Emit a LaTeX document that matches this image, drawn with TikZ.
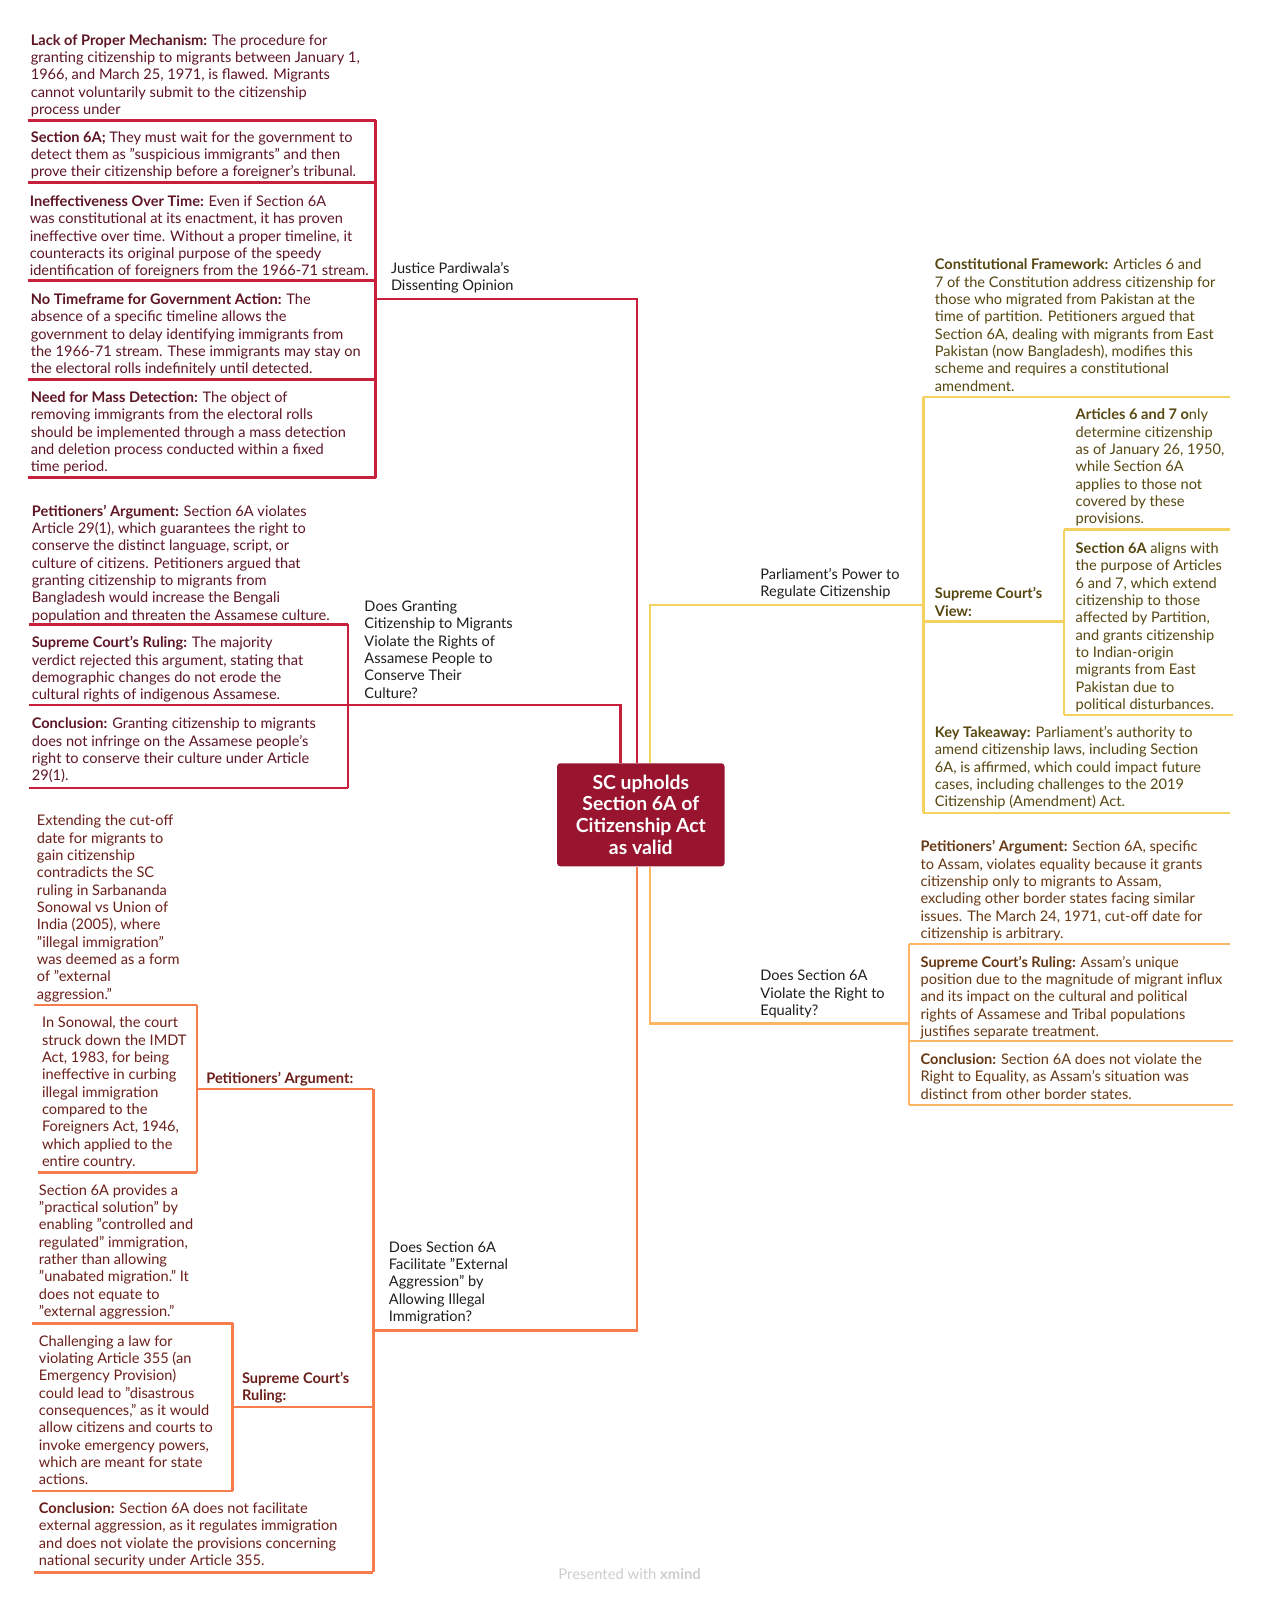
\documentclass[tikz,border=0pt]{standalone}
\usepackage{fontspec}
\setmainfont{Lato}
\definecolor{redL}{HTML}{C8203C}
\definecolor{redT}{HTML}{5E1624}
\definecolor{boxF}{HTML}{98142F}
\definecolor{yelL}{HTML}{F3D35E}
\definecolor{yelT}{HTML}{574710}
\definecolor{orgL}{HTML}{FDB563}
\definecolor{orgT}{HTML}{673814}
\definecolor{corL}{HTML}{F77D4C}
\definecolor{corT}{HTML}{6B1F1A}
\definecolor{labT}{HTML}{1E1E1E}
\definecolor{footT}{HTML}{CDCDCD}
\tikzset{
  txt/.style={anchor=north west, inner sep=0pt, align=left, yshift=-4pt,
    font=\fontsize{14.3}{17}\selectfont, execute at begin node=\strut},
  lab/.style={txt, text=labT},
  rl/.style={draw=redL, line width=2.3pt},
  yl/.style={draw=yelL, line width=2.3pt},
  ol/.style={draw=orgL, line width=2.3pt},
  cl/.style={draw=corL, line width=2.3pt},
}
\begin{document}
\begin{tikzpicture}[x=1pt,y=-1pt]
\useasboundingbox[fill=white] (0,0) rectangle (1236,1568);

% ---------- central topic
\node[fill=boxF, rounded corners=3pt, minimum width=164pt, minimum height=101pt,
  text=white, align=center, font=\fontsize{19}{21.5}\selectfont\bfseries, inner sep=0pt]
  (root) at (628,798.5) {SC upholds\\Section 6A of\\Citizenship Act\\as valid};

% ---------- red branch 1
\node[txt, text=redT] (n1) at (30,29.5) {\textbf{Lack of Proper Mechanism:} The procedure for\\granting citizenship to migrants between January 1,\\1966, and March 25, 1971, is flawed. Migrants\\cannot voluntarily submit to the citizenship\\process under};
\node[txt, text=redT] (n2) at (30,124.5) {\textbf{Section 6A;} They must wait for the government to\\detect them as "suspicious immigrants" and then\\prove their citizenship before a foreigner's tribunal.};
\node[txt, text=redT] (n3) at (29,187.5) {\textbf{Ineffectiveness Over Time:} Even if Section 6A\\was constitutional at its enactment, it has proven\\ineffective over time. Without a proper timeline, it\\counteracts its original purpose of the speedy\\identification of foreigners from the 1966-71 stream.};
\node[txt, text=redT] (n4) at (30,283.5) {\textbf{No Timeframe for Government Action:} The\\absence of a specific timeline allows the\\government to delay identifying immigrants from\\the 1966-71 stream. These immigrants may stay on\\the electoral rolls indefinitely until detected.};
\node[txt, text=redT] (n5) at (30,379.5) {\textbf{Need for Mass Detection:} The object of\\removing immigrants from the electoral rolls\\should be implemented through a mass detection\\and deletion process conducted within a fixed\\time period.};
\node[lab] (jp) at (383,252.5) {Justice Pardiwala's\\Dissenting Opinion};
\foreach \y in {118,179,275,372,468} \draw[rl] (27,\y) -- (368,\y);
\draw[rl] (368,118) -- (368,468);
\draw[rl] (368,293) -- (624,293) -- (root.north -| 624,0);

% ---------- red branch 2
\node[txt, text=redT] (p1) at (31,490.5) {\textbf{Petitioners' Argument:} Section 6A violates\\Article 29(1), which guarantees the right to\\conserve the distinct language, script, or\\culture of citizens. Petitioners argued that\\granting citizenship to migrants from\\Bangladesh would increase the Bengali\\population and threaten the Assamese culture.};
\node[txt, text=redT] (p2) at (31,619.5) {\textbf{Supreme Court's Ruling:} The majority\\verdict rejected this argument, stating that\\demographic changes do not erode the\\cultural rights of indigenous Assamese.};
\node[txt, text=redT] (p3) at (31,699.5) {\textbf{Conclusion:} Granting citizenship to migrants\\does not infringe on the Assamese people's\\right to conserve their culture under Article\\29(1).};
\node[lab] (dg) at (357,584.5) {Does Granting\\Citizenship to Migrants\\Violate the Rights of\\Assamese People to\\Conserve Their\\Culture?};
\foreach \y in {612,691,772} \draw[rl] (28,\y) -- (341,\y);
\draw[rl] (341,612) -- (341,772);
\draw[rl] (341,691) -- (608,691) -- (root.north -| 608,0);

% ---------- yellow branch
\node[txt, text=yelT] (y1) at (916,249.5) {\textbf{Constitutional Framework:} Articles 6 and\\7 of the Constitution address citizenship for\\those who migrated from Pakistan at the\\time of partition. Petitioners argued that\\Section 6A, dealing with migrants from East\\Pakistan (now Bangladesh), modifies this\\scheme and requires a constitutional\\amendment.};
\node[txt, text=yelT] (y2) at (916,571.5) {\textbf{Supreme Court's}\\\textbf{View:}};
\node[txt, text=yelT] (y3) at (1054,396.5) {\textbf{Articles 6 and 7 o}nly\\determine citizenship\\as of January 26, 1950,\\while Section 6A\\applies to those not\\covered by these\\provisions.};
\node[txt, text=yelT] (y4) at (1054,527.5) {\textbf{Section 6A} aligns with\\the purpose of Articles\\6 and 7, which extend\\citizenship to those\\affected by Partition,\\and grants citizenship\\to Indian-origin\\migrants from East\\Pakistan due to\\political disturbances.};
\node[txt, text=yelT] (y5) at (916,707.5) {\textbf{Key Takeaway:} Parliament's authority to\\amend citizenship laws, including Section\\6A, is affirmed, which could impact future\\cases, including challenges to the 2019\\Citizenship (Amendment) Act.};
\node[lab] (pp) at (745,552.5) {Parliament's Power to\\Regulate Citizenship};
\draw[yl] (905,389) -- (1205,389);
\draw[yl] (905,609) -- (1043,609);
\draw[yl] (1043,519) -- (1205,519);
\draw[yl] (1043,701) -- (1208,701);
\draw[yl] (1043,519) -- (1043,701);
\draw[yl] (905,797) -- (1205,797);
\draw[yl] (905,389) -- (905,797);
\draw[yl] (root.north -| 637,0) -- (637,593) -- (905,593);

% ---------- light orange branch
\node[txt, text=orgT] (o1) at (902,819.5) {\textbf{Petitioners' Argument:} Section 6A, specific\\to Assam, violates equality because it grants\\citizenship only to migrants to Assam,\\excluding other border states facing similar\\issues. The March 24, 1971, cut-off date for\\citizenship is arbitrary.};
\node[txt, text=orgT] (o2) at (902,932.5) {\textbf{Supreme Court's Ruling:} Assam's unique\\position due to the magnitude of migrant influx\\and its impact on the cultural and political\\rights of Assamese and Tribal populations\\justifies separate treatment.};
\node[txt, text=orgT] (o3) at (902,1028.5) {\textbf{Conclusion:} Section 6A does not violate the\\Right to Equality, as Assam's situation was\\distinct from other border states.};
\node[lab] (eq) at (745,946.5) {Does Section 6A\\Violate the Right to\\Equality?};
\draw[ol] (891,925) -- (1205,925);
\draw[ol] (891,1020) -- (1208,1020);
\draw[ol] (891,1083) -- (1208,1083);
\draw[ol] (891,925) -- (891,1083);
\draw[ol] (root.south -| 637,0) -- (637,1003) -- (891,1003);

% ---------- coral branch
\node[txt, text=corT] (c1) at (36,794.5) {Extending the cut-off\\date for migrants to\\gain citizenship\\contradicts the SC\\ruling in Sarbananda\\Sonowal vs Union of\\India (2005), where\\"illegal immigration"\\was deemed as a form\\of "external\\aggression."};
\node[txt, text=corT] (c2) at (41,992.5) {In Sonowal, the court\\struck down the IMDT\\Act, 1983, for being\\ineffective in curbing\\illegal immigration\\compared to the\\Foreigners Act, 1946,\\which applied to the\\entire country.};
\node[txt, text=corT] (cp) at (202,1045.5) {\textbf{Petitioners' Argument:}};
\node[txt, text=corT] (c3) at (38,1156.5) {Section 6A provides a\\"practical solution" by\\enabling "controlled and\\regulated" immigration,\\rather than allowing\\"unabated migration." It\\does not equate to\\"external aggression."};
\node[txt, text=corT] (c4) at (38,1304.5) {Challenging a law for\\violating Article 355 (an\\Emergency Provision)\\could lead to "disastrous\\consequences," as it would\\allow citizens and courts to\\invoke emergency powers,\\which are meant for state\\actions.};
\node[txt, text=corT] (cs) at (237,1340.5) {\textbf{Supreme Court's}\\\textbf{Ruling:}};
\node[txt, text=corT] (c5) at (38,1468.5) {\textbf{Conclusion:} Section 6A does not facilitate\\external aggression, as it regulates immigration\\and does not violate the provisions concerning\\national security under Article 355.};
\node[lab] (ea) at (381,1212.5) {Does Section 6A\\Facilitate "External\\Aggression" by\\Allowing Illegal\\Immigration?};
\draw[cl] (33,985) -- (193,985);
\draw[cl] (37,1149) -- (193,1149);
\draw[cl] (193,985) -- (193,1149);
\draw[cl] (193,1067) -- (366,1067);
\draw[cl] (31,1297) -- (228,1297);
\draw[cl] (31,1461) -- (228,1461);
\draw[cl] (228,1297) -- (228,1461);
\draw[cl] (228,1379) -- (366,1379);
\draw[cl] (33,1541) -- (366,1541);
\draw[cl] (366,1067) -- (366,1541);
\draw[cl] (root.south -| 624,0) -- (624,1304) -- (366,1304);

% ---------- footer
\node[text=footT, font=\fontsize{14.5}{16}\selectfont, inner sep=0pt] (foot) at (617,1543) {Presented with \textbf{xmind}};
\end{tikzpicture}
\end{document}
